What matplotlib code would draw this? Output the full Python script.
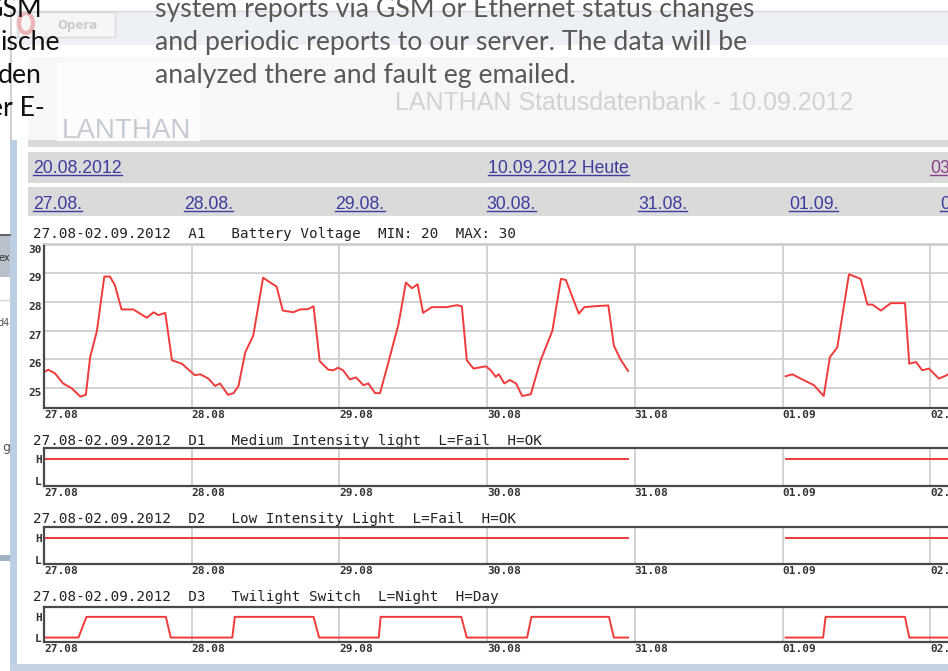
import numpy as np
import matplotlib.pyplot as plt
from matplotlib.patches import Rectangle, Ellipse

# ---------------------------------------------------------------
# data (hours counted from 27.08. 00:00)
# ---------------------------------------------------------------
day_labels = ['27.08', '28.08', '29.08', '30.08', '31.08', '01.09', '02.09']
nav_days = ['27.08.', '28.08.', '29.08.', '30.08.', '31.08.', '01.09.', '02.09.']
nav_top = ['20.08.2012', '10.09.2012 Heute', '03.09.2012']

volt_hours = [0, 0.7, 1.8, 3.1, 4.5, 5.9, 6.8, 7.5, 8.6, 9.8, 10.7, 11.5, 12.6, 14.5,
              16.7, 17.8, 18.6, 19.7, 20.8, 22.4, 24.5, 25.4, 26.7, 27.8, 28.6, 29.9,
              30.8, 31.6, 32.7, 34.0, 35.6, 36.7, 37.8, 38.8, 40.5, 41.6, 42.9, 43.8,
              44.8, 46.2, 47.0, 47.8, 48.6, 49.7, 50.7, 51.9, 52.7, 53.8, 54.6, 55.9,
              57.6, 58.8, 59.8, 60.7, 61.6, 63.0, 65.4, 67.1, 67.9, 68.7, 69.8, 71.8,
              72.6, 73.4, 73.9, 74.8, 75.7, 76.7, 77.7, 79.1, 80.7, 82.6, 84.0, 84.8,
              86.9, 87.8, 89.4, 91.7, 92.6, 93.7, 94.9, np.nan,
              120.5, 121.6, 123.2, 125.1, 126.7, 127.7, 128.9, 130.8, 132.7, 133.8,
              134.6, 136.0, 137.6, 139.9, 140.6, 141.7, 142.7, 143.8, 145.4, 146.3, 146.9]
volt_values = [25.55, 25.63, 25.5, 25.15, 24.98, 24.69, 24.75, 26.07, 26.99, 28.89, 28.89,
               28.6, 27.74, 27.74, 27.45, 27.64, 27.54, 27.62, 25.96, 25.84, 25.44, 25.47,
               25.32, 25.06, 25.15, 24.75, 24.81, 25.06, 26.24, 26.82, 28.85, 28.69, 28.54,
               27.7, 27.64, 27.74, 27.75, 27.85, 25.93, 25.63, 25.61, 25.7, 25.61, 25.29,
               25.36, 25.09, 25.15, 24.81, 24.81, 25.84, 27.22, 28.68, 28.48, 28.62, 27.62,
               27.82, 27.82, 27.89, 27.85, 25.96, 25.67, 25.75, 25.61, 25.38, 25.47, 25.15,
               25.27, 25.15, 24.71, 24.77, 25.96, 26.99, 28.81, 28.77, 27.59, 27.82, 27.85,
               27.88, 26.47, 25.98, 25.59, np.nan,
               25.4, 25.47, 25.29, 25.09, 24.71, 26.07, 26.41, 28.97, 28.81, 27.91, 27.91,
               27.7, 27.96, 27.96, 25.84, 25.9, 25.61, 25.67, 25.32, 25.4, 25.47]

d1_hours = [0, 94.9, np.nan, 120.5, 147]
d1_state = [1, 1, np.nan, 1, 1]
d2_hours = [0, 94.9, np.nan, 120.5, 147]
d2_state = [1, 1, np.nan, 1, 1]
d3_hours = [0, 5.6, 6.9, 19.8, 20.6, 30.6, 31.0, 43.8, 44.7, 54.4, 54.7, 67.8, 68.7,
            78.5, 79.2, 91.8, 92.6, 94.9, np.nan, 120.5, 126.6, 127.0, 139.9, 140.6, 147]
d3_state = [0, 0, 1, 1, 0, 0, 1, 1, 0, 0, 1, 1, 0, 0, 1, 1, 0, 0, np.nan,
            0, 0, 1, 1, 0, 0]

titles = ['27.08-02.09.2012  A1   Battery Voltage  MIN: 20  MAX: 30',
          '27.08-02.09.2012  D1   Medium Intensity light  L=Fail  H=OK',
          '27.08-02.09.2012  D2   Low Intensity Light  L=Fail  H=OK',
          '27.08-02.09.2012  D3   Twilight Switch  L=Night  H=Day']

slide_lines = ['system reports via GSM or Ethernet status changes',
               'and periodic reports to our server. The data will be',
               'analyzed there and fault eg emailed.']
slide_left = ['GSM', 'ische', 'den', 'er E-']

# ---------------------------------------------------------------
# figure / background in pixel coords
# ---------------------------------------------------------------
W, H = 948, 671
fig = plt.figure(figsize=(W / 100, H / 100), dpi=100)
bg = fig.add_axes([0, 0, 1, 1])
bg.set_xlim(0, W)
bg.set_ylim(H, 0)
bg.axis('off')


def px_axes(left, top, right, bottom):
    return fig.add_axes([left / W, 1 - bottom / H, (right - left) / W, (bottom - top) / H])


# browser window pieces
bg.add_patch(Rectangle((16, 11), W - 16, 34, fc='#edf1f6', ec='none'))
bg.plot([16, W], [11, 11], color='#d5d9de', lw=1)
bg.add_patch(Rectangle((18, 12), 97, 25, fc='#f6f6f6', ec='#dadada', lw=1))
bg.add_patch(Ellipse((26, 23), 14, 20, fc='none', ec='#ecb4b4', lw=3))
bg.text(57, 25, 'Opera', fontsize=8.5, color='#cccccc', fontweight='bold',
        family='DejaVu Sans', va='center')
bg.add_patch(Rectangle((28, 57), W - 28, 84, fc='#f7f7f7', ec='none'))
bg.add_patch(Rectangle((28, 140), W - 28, 7, fc='#dadada', ec='none'))
bg.add_patch(Rectangle((57, 62), 143, 79, fc='#fcfcfc', ec='none'))
bg.text(62, 138, 'LANTHAN', fontsize=20, color='#c6cbd3', family='Liberation Sans',
        va='baseline')
bg.text(395, 110, 'LANTHAN Statusdatenbank - 10.09.2012', fontsize=18, color='#d2d2d2',
        family='Liberation Sans', va='baseline')

# window frame + neighbouring window on the left
bg.plot([11, 11], [12, 140], color='#c8c8c8', lw=1.2)
bg.add_patch(Rectangle((10, 140), 7, H - 140, fc='#bccfe2', ec='none'))
bg.add_patch(Rectangle((10, 664), W - 10, 7, fc='#c3d3e4', ec='none'))
bg.plot([0, 10], [235, 235], color='#444444', lw=1.2)
bg.add_patch(Rectangle((0, 236), 10, 41, fc='#b7c0cb', ec='none'))
bg.plot([0, 10], [300, 300], color='#d5d5d5', lw=1)
bg.add_patch(Rectangle((0, 555), 10, 6, fc='#9fb2c6', ec='none'))
bg.text(10, 258, 'ex', fontsize=7, color='#333333', ha='right', va='center')
bg.text(10, 323, 'd4', fontsize=7, color='#555555', ha='right', va='center')
bg.text(10, 448, 'g', fontsize=9, color='#555555', ha='right', va='center')

# navigation bars
bg.add_patch(Rectangle((28, 152), W - 28, 31, fc='#dadada', ec='none'))
bg.add_patch(Rectangle((28, 187), W - 28, 29, fc='#dadada', ec='none'))

px_day = 147.7
links = []
for txt, x, col in zip(nav_top, [33, 488, 930], ['#3d3d9f', '#3d3d9f', '#8a3f8a']):
    links.append(bg.text(x, 173, txt, fontsize=12.7, color=col, family='Liberation Sans',
                         va='baseline'))
for i, txt in enumerate(nav_days):
    links.append(bg.text(33 + i * 151.2, 209, txt, fontsize=12.7, color='#3d3d9f',
                         family='Liberation Sans', va='baseline'))

# chart titles
for txt, y in zip(titles, [238, 445, 522.7, 601]):
    bg.text(33, y, txt, fontsize=10.3, family='DejaVu Sans Mono', color='#222222',
            va='baseline')

# slide text over everything
for i, line in enumerate(slide_lines):
    bg.text(155, 17 + i * 33, line, fontsize=19.2, family='Lato', color='#595959',
            va='baseline', zorder=5)
for i, (txt, x) in enumerate(zip(slide_left, [42, 60, 42, 45])):
    bg.text(x, 17 + i * 33, txt, fontsize=19.2, family='Lato', color='#111111',
            va='baseline', ha='right', zorder=5)

# ---------------------------------------------------------------
# charts
# ---------------------------------------------------------------
red = '#ef3b3b'
dark = '#4a4a4a'
grid = '#cfcfcf'
tick_font = dict(family='DejaVu Sans Mono', fontweight='bold', fontsize=8)
hours_span = 168
right = 44 + hours_span * px_day / 24


def style_axis(ax, ylim):
    ax.set_xlim(0, hours_span)
    ax.set_ylim(*ylim)
    ax.set_facecolor('white')
    ax.set_xticks(np.arange(0, 168, 24))
    ax.set_xticklabels(day_labels, ha='left', color='#333333', **tick_font)
    ax.tick_params(length=0, pad=1.5)
    ax.grid(axis='x', color=grid, lw=1.3)
    ax.spines['right'].set_visible(False)
    for s in ['left', 'bottom', 'top']:
        ax.spines[s].set_color(dark)
        ax.spines[s].set_linewidth(1.6)
    ax.set_axisbelow(True)


ax1 = px_axes(44, 244, right, 408)
style_axis(ax1, (24.29, 30.03))
ax1.spines['top'].set_color(grid)
ax1.spines['top'].set_linewidth(1.3)
ax1.grid(axis='y', color=grid, lw=1.3)
ax1.set_yticks([25, 26, 27, 28, 29, 30])
ax1.set_yticklabels(['25', '26', '27', '28', '29', '30'], va='top', color='#333333',
                    **tick_font)
ax1.plot(volt_hours, volt_values, color=red, lw=1.4)

for top, bottom, hrs, st in [(448, 485.7, d1_hours, d1_state),
                              (526.7, 564, d2_hours, d2_state),
                              (606.5, 641.7, d3_hours, d3_state)]:
    ax = px_axes(44, top, right, bottom)
    style_axis(ax, (-0.2, 1.5))
    ax.set_yticks([0, 1])
    ax.set_yticklabels(['L', 'H'], color='#333333', **tick_font)
    ax.plot(hrs, st, color=red, lw=1.4)

# underline the links
fig.canvas.draw()
rend = fig.canvas.get_renderer()
for t in links:
    bb = t.get_window_extent(rend)
    y = t.get_position()[1] + 1.5
    bg.plot([bb.x0, bb.x1], [y, y], color=t.get_color(), lw=1)

fig.savefig('out.png', dpi=100)
